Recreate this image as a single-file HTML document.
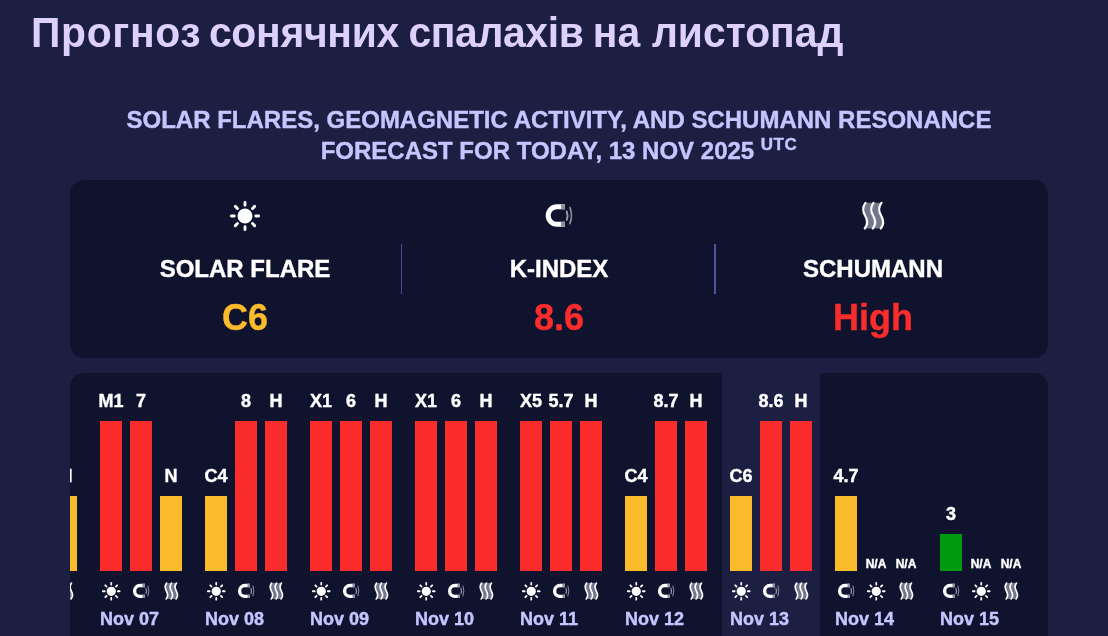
<!DOCTYPE html>
<html lang="uk"><head><meta charset="utf-8"><title>Прогноз сонячних спалахів на листопад</title>
<style>
html,body{margin:0;padding:0}
body{width:1108px;height:636px;overflow:hidden;background:#1c1e42;font-family:"Liberation Sans",Arial,sans-serif;position:relative;color:#fff}
h1{position:absolute;left:31px;top:7px;margin:0;font-size:43px;line-height:50px;font-weight:bold;color:#ddd0fe;white-space:nowrap;word-spacing:-2px;transform:scaleX(0.95);transform-origin:0 0}
h2{position:absolute;left:70px;width:978px;top:104px;margin:0;font-size:24px;line-height:31px;font-weight:bold;text-align:center;color:#c4c6ff;text-transform:uppercase}
h2,.kv .t,.kv .v,.lb,.dt{-webkit-text-stroke:0.4px currentColor}
h2 sup{font-size:17px;letter-spacing:.5px;vertical-align:baseline;position:relative;top:-9px;line-height:0}
.card{position:absolute;left:70px;top:180px;width:978px;height:178px;border-radius:14px;background:#10132e}
.kv{position:absolute;top:0;width:314px;height:178px;text-align:center}
.kv .ic{position:absolute;left:142px;top:21px}
.kv .t{position:absolute;left:0;right:0;top:74px;font-size:24px;line-height:30px;font-weight:bold;color:#fff}
.kv .v{position:absolute;left:0;right:0;top:117px;font-size:36px;line-height:42px;font-weight:bold}
.kv.b:after{content:"";position:absolute;right:0;top:64px;height:50px;width:1px;background:#474c94}
.kv.b2:after{width:2px;background:#4e5499}
.chart{position:absolute;left:70px;top:373px;width:978px;height:300px;border-radius:14px;background:#10132e;overflow:hidden}
.col{position:absolute;top:0;width:98px;height:300px}
.col.now{background:#1c1e42}
.bar{position:absolute;width:22px;bottom:102px}
.lb{position:absolute;width:60px;text-align:center;font-size:18px;line-height:20px;font-weight:bold;color:#fff;white-space:nowrap}
.lb.na{font-size:12px;line-height:14px}
.col .ic{position:absolute;top:209px}
.dt{position:absolute;left:8px;top:236px;font-size:18px;line-height:20px;font-weight:bold;color:#c4c6ff;white-space:nowrap}
</style></head><body>
<h1><span style="letter-spacing:.7px">Прогноз</span> <span style="letter-spacing:-.3px;margin-left:-2px">сонячних</span> <span style="letter-spacing:-.4px">спалахів</span> <span>на</span> <span style="margin-left:2.3px">листопад</span></h1>
<h2>SOLAR FLARES, GEOMAGNETIC ACTIVITY, AND SCHUMANN RESONANCE<br>FORECAST FOR TODAY, 13 NOV 2025 <sup>UTC</sup></h2>
<div class="card">
<div class="kv b" style="left:18px"><svg class="ic" style="" width="30" height="30" viewBox="0 0 24 24" fill="none" stroke="#fff" stroke-width="2.3" stroke-linecap="round" overflow="visible"><circle cx="12" cy="12" r="5" fill="#fff" stroke-width="2"/><path d="M12 1.1v2.3M12 20.6v2.3M4.3 4.3l1.65 1.65M18.05 18.05l1.65 1.65M1.1 12h2.3M20.6 12h2.3M4.3 19.7l1.65-1.65M18.05 5.95l1.65-1.65"/></svg><div class="t">SOLAR FLARE</div><div class="v" style="color:#fbbc2c">C6</div></div>
<div class="kv b b2" style="left:332px"><svg class="ic" style="" width="30" height="30" viewBox="0 0 30 30" fill="none"><path d="M21 5.7H13a8.8 8.8 0 0 0 0 17.600H21" stroke="#fff" stroke-width="5"/><path d="M17 5.7h4M17 23.300h4" stroke="#8e8fa1" stroke-width="5"/><path d="M22.700 10.400q1.700 4.200 0 8.400" stroke="#9a9bad" stroke-width="1.900" stroke-linecap="round"/><path d="M25.900 6.400q3.100 8.100 0 16.200" stroke="#9091a6" stroke-width="1.600" stroke-linecap="round"/></svg><div class="t">K-INDEX</div><div class="v" style="color:#fb2c2c">8.6</div></div>
<div class="kv" style="left:646px"><svg class="ic" style="" width="30" height="30" viewBox="0 0 30 30" fill="none"><path d="M7.5 1.8C4 6.5 4.5 10 7.2 14.8C9.9 19.6 10.4 23.2 6.8 27.5H22.8C26.4 23.2 25.9 19.6 23.2 14.8C20.5 10 20 6.5 23.5 1.8Z" fill="#74768c"/><path d="M7.5 1.8C4 6.5 4.5 10 7.2 14.8C9.9 19.6 10.4 23.2 6.8 27.5M15.5 1.8C12 6.5 12.5 10 15.2 14.8C17.9 19.6 18.4 23.2 14.8 27.5M23.5 1.8C20 6.5 20.5 10 23.2 14.8C25.9 19.6 26.4 23.2 22.8 27.5" stroke="#fff" stroke-width="2.2" stroke-linecap="round"/></svg><div class="t">SCHUMANN</div><div class="v" style="color:#fb2c2c">High</div></div>
</div>
<div class="chart">
<div class="col" style="left:-83px">
<div class="bar" style="left:8px;height:150px;background:#fb2c2c"></div>
<svg class="ic" style="left:10px" width="18.5" height="18.5" viewBox="0 0 24 24" fill="none" stroke="#fff" stroke-width="2.3" stroke-linecap="round" overflow="visible"><circle cx="12" cy="12" r="5" fill="#fff" stroke-width="2"/><path d="M12 1.1v2.3M12 20.6v2.3M4.3 4.3l1.65 1.65M18.05 18.05l1.65 1.65M1.1 12h2.3M20.6 12h2.3M4.3 19.7l1.65-1.65M18.05 5.95l1.65-1.65"/></svg>
<div class="bar" style="left:38px;height:150px;background:#fb2c2c"></div>
<svg class="ic" style="left:40px" width="18.5" height="18.5" viewBox="0 0 30 30" fill="none"><path d="M21 5.7H13a8.8 8.8 0 0 0 0 17.600H21" stroke="#fff" stroke-width="5.5"/><path d="M17 5.7h4M17 23.300h4" stroke="#8e8fa1" stroke-width="5.5"/><path d="M22.700 10.400q1.700 4.200 0 8.400" stroke="#9a9bad" stroke-width="1.900" stroke-linecap="round"/><path d="M25.900 6.400q3.100 8.100 0 16.200" stroke="#9091a6" stroke-width="1.600" stroke-linecap="round"/></svg>
<div class="bar" style="left:68px;height:75px;background:#fbbc2c"></div>
<div class="lb" style="left:49px;top:93.0px">N</div>
<svg class="ic" style="left:70px" width="18.5" height="18.5" viewBox="0 0 30 30" fill="none"><path d="M7.5 1.8C4 6.5 4.5 10 7.2 14.8C9.9 19.6 10.4 23.2 6.8 27.5H22.8C26.4 23.2 25.9 19.6 23.2 14.8C20.5 10 20 6.5 23.5 1.8Z" fill="#74768c"/><path d="M7.5 1.8C4 6.5 4.5 10 7.2 14.8C9.9 19.6 10.4 23.2 6.8 27.5M15.5 1.8C12 6.5 12.5 10 15.2 14.8C17.9 19.6 18.4 23.2 14.8 27.5M23.5 1.8C20 6.5 20.5 10 23.2 14.8C25.9 19.6 26.4 23.2 22.8 27.5" stroke="#fff" stroke-width="2.7" stroke-linecap="round"/></svg>
</div>
<div class="col" style="left:22px">
<div class="bar" style="left:8px;height:150px;background:#fb2c2c"></div>
<div class="lb" style="left:-11px;top:18.0px">M1</div>
<svg class="ic" style="left:10px" width="18.5" height="18.5" viewBox="0 0 24 24" fill="none" stroke="#fff" stroke-width="2.3" stroke-linecap="round" overflow="visible"><circle cx="12" cy="12" r="5" fill="#fff" stroke-width="2"/><path d="M12 1.1v2.3M12 20.6v2.3M4.3 4.3l1.65 1.65M18.05 18.05l1.65 1.65M1.1 12h2.3M20.6 12h2.3M4.3 19.7l1.65-1.65M18.05 5.95l1.65-1.65"/></svg>
<div class="bar" style="left:38px;height:150px;background:#fb2c2c"></div>
<div class="lb" style="left:19px;top:18.0px">7</div>
<svg class="ic" style="left:40px" width="18.5" height="18.5" viewBox="0 0 30 30" fill="none"><path d="M21 5.7H13a8.8 8.8 0 0 0 0 17.600H21" stroke="#fff" stroke-width="5.5"/><path d="M17 5.7h4M17 23.300h4" stroke="#8e8fa1" stroke-width="5.5"/><path d="M22.700 10.400q1.700 4.200 0 8.400" stroke="#9a9bad" stroke-width="1.900" stroke-linecap="round"/><path d="M25.900 6.400q3.100 8.100 0 16.200" stroke="#9091a6" stroke-width="1.600" stroke-linecap="round"/></svg>
<div class="bar" style="left:68px;height:75px;background:#fbbc2c"></div>
<div class="lb" style="left:49px;top:93.0px">N</div>
<svg class="ic" style="left:70px" width="18.5" height="18.5" viewBox="0 0 30 30" fill="none"><path d="M7.5 1.8C4 6.5 4.5 10 7.2 14.8C9.9 19.6 10.4 23.2 6.8 27.5H22.8C26.4 23.2 25.9 19.6 23.2 14.8C20.5 10 20 6.5 23.5 1.8Z" fill="#74768c"/><path d="M7.5 1.8C4 6.5 4.5 10 7.2 14.8C9.9 19.6 10.4 23.2 6.8 27.5M15.5 1.8C12 6.5 12.5 10 15.2 14.8C17.9 19.6 18.4 23.2 14.8 27.5M23.5 1.8C20 6.5 20.5 10 23.2 14.8C25.9 19.6 26.4 23.2 22.8 27.5" stroke="#fff" stroke-width="2.7" stroke-linecap="round"/></svg>
<div class="dt">Nov 07</div></div>
<div class="col" style="left:127px">
<div class="bar" style="left:8px;height:75px;background:#fbbc2c"></div>
<div class="lb" style="left:-11px;top:93.0px">C4</div>
<svg class="ic" style="left:10px" width="18.5" height="18.5" viewBox="0 0 24 24" fill="none" stroke="#fff" stroke-width="2.3" stroke-linecap="round" overflow="visible"><circle cx="12" cy="12" r="5" fill="#fff" stroke-width="2"/><path d="M12 1.1v2.3M12 20.6v2.3M4.3 4.3l1.65 1.65M18.05 18.05l1.65 1.65M1.1 12h2.3M20.6 12h2.3M4.3 19.7l1.65-1.65M18.05 5.95l1.65-1.65"/></svg>
<div class="bar" style="left:38px;height:150px;background:#fb2c2c"></div>
<div class="lb" style="left:19px;top:18.0px">8</div>
<svg class="ic" style="left:40px" width="18.5" height="18.5" viewBox="0 0 30 30" fill="none"><path d="M21 5.7H13a8.8 8.8 0 0 0 0 17.600H21" stroke="#fff" stroke-width="5.5"/><path d="M17 5.7h4M17 23.300h4" stroke="#8e8fa1" stroke-width="5.5"/><path d="M22.700 10.400q1.700 4.200 0 8.400" stroke="#9a9bad" stroke-width="1.900" stroke-linecap="round"/><path d="M25.900 6.400q3.100 8.100 0 16.200" stroke="#9091a6" stroke-width="1.600" stroke-linecap="round"/></svg>
<div class="bar" style="left:68px;height:150px;background:#fb2c2c"></div>
<div class="lb" style="left:49px;top:18.0px">H</div>
<svg class="ic" style="left:70px" width="18.5" height="18.5" viewBox="0 0 30 30" fill="none"><path d="M7.5 1.8C4 6.5 4.5 10 7.2 14.8C9.9 19.6 10.4 23.2 6.8 27.5H22.8C26.4 23.2 25.9 19.6 23.2 14.8C20.5 10 20 6.5 23.5 1.8Z" fill="#74768c"/><path d="M7.5 1.8C4 6.5 4.5 10 7.2 14.8C9.9 19.6 10.4 23.2 6.8 27.5M15.5 1.8C12 6.5 12.5 10 15.2 14.8C17.9 19.6 18.4 23.2 14.8 27.5M23.5 1.8C20 6.5 20.5 10 23.2 14.8C25.9 19.6 26.4 23.2 22.8 27.5" stroke="#fff" stroke-width="2.7" stroke-linecap="round"/></svg>
<div class="dt">Nov 08</div></div>
<div class="col" style="left:232px">
<div class="bar" style="left:8px;height:150px;background:#fb2c2c"></div>
<div class="lb" style="left:-11px;top:18.0px">X1</div>
<svg class="ic" style="left:10px" width="18.5" height="18.5" viewBox="0 0 24 24" fill="none" stroke="#fff" stroke-width="2.3" stroke-linecap="round" overflow="visible"><circle cx="12" cy="12" r="5" fill="#fff" stroke-width="2"/><path d="M12 1.1v2.3M12 20.6v2.3M4.3 4.3l1.65 1.65M18.05 18.05l1.65 1.65M1.1 12h2.3M20.6 12h2.3M4.3 19.7l1.65-1.65M18.05 5.95l1.65-1.65"/></svg>
<div class="bar" style="left:38px;height:150px;background:#fb2c2c"></div>
<div class="lb" style="left:19px;top:18.0px">6</div>
<svg class="ic" style="left:40px" width="18.5" height="18.5" viewBox="0 0 30 30" fill="none"><path d="M21 5.7H13a8.8 8.8 0 0 0 0 17.600H21" stroke="#fff" stroke-width="5.5"/><path d="M17 5.7h4M17 23.300h4" stroke="#8e8fa1" stroke-width="5.5"/><path d="M22.700 10.400q1.700 4.200 0 8.400" stroke="#9a9bad" stroke-width="1.900" stroke-linecap="round"/><path d="M25.900 6.400q3.100 8.100 0 16.200" stroke="#9091a6" stroke-width="1.600" stroke-linecap="round"/></svg>
<div class="bar" style="left:68px;height:150px;background:#fb2c2c"></div>
<div class="lb" style="left:49px;top:18.0px">H</div>
<svg class="ic" style="left:70px" width="18.5" height="18.5" viewBox="0 0 30 30" fill="none"><path d="M7.5 1.8C4 6.5 4.5 10 7.2 14.8C9.9 19.6 10.4 23.2 6.8 27.5H22.8C26.4 23.2 25.9 19.6 23.2 14.8C20.5 10 20 6.5 23.5 1.8Z" fill="#74768c"/><path d="M7.5 1.8C4 6.5 4.5 10 7.2 14.8C9.9 19.6 10.4 23.2 6.8 27.5M15.5 1.8C12 6.5 12.5 10 15.2 14.8C17.9 19.6 18.4 23.2 14.8 27.5M23.5 1.8C20 6.5 20.5 10 23.2 14.8C25.9 19.6 26.4 23.2 22.8 27.5" stroke="#fff" stroke-width="2.7" stroke-linecap="round"/></svg>
<div class="dt">Nov 09</div></div>
<div class="col" style="left:337px">
<div class="bar" style="left:8px;height:150px;background:#fb2c2c"></div>
<div class="lb" style="left:-11px;top:18.0px">X1</div>
<svg class="ic" style="left:10px" width="18.5" height="18.5" viewBox="0 0 24 24" fill="none" stroke="#fff" stroke-width="2.3" stroke-linecap="round" overflow="visible"><circle cx="12" cy="12" r="5" fill="#fff" stroke-width="2"/><path d="M12 1.1v2.3M12 20.6v2.3M4.3 4.3l1.65 1.65M18.05 18.05l1.65 1.65M1.1 12h2.3M20.6 12h2.3M4.3 19.7l1.65-1.65M18.05 5.95l1.65-1.65"/></svg>
<div class="bar" style="left:38px;height:150px;background:#fb2c2c"></div>
<div class="lb" style="left:19px;top:18.0px">6</div>
<svg class="ic" style="left:40px" width="18.5" height="18.5" viewBox="0 0 30 30" fill="none"><path d="M21 5.7H13a8.8 8.8 0 0 0 0 17.600H21" stroke="#fff" stroke-width="5.5"/><path d="M17 5.7h4M17 23.300h4" stroke="#8e8fa1" stroke-width="5.5"/><path d="M22.700 10.400q1.700 4.200 0 8.400" stroke="#9a9bad" stroke-width="1.900" stroke-linecap="round"/><path d="M25.900 6.400q3.100 8.100 0 16.200" stroke="#9091a6" stroke-width="1.600" stroke-linecap="round"/></svg>
<div class="bar" style="left:68px;height:150px;background:#fb2c2c"></div>
<div class="lb" style="left:49px;top:18.0px">H</div>
<svg class="ic" style="left:70px" width="18.5" height="18.5" viewBox="0 0 30 30" fill="none"><path d="M7.5 1.8C4 6.5 4.5 10 7.2 14.8C9.9 19.6 10.4 23.2 6.8 27.5H22.8C26.4 23.2 25.9 19.6 23.2 14.8C20.5 10 20 6.5 23.5 1.8Z" fill="#74768c"/><path d="M7.5 1.8C4 6.5 4.5 10 7.2 14.8C9.9 19.6 10.4 23.2 6.8 27.5M15.5 1.8C12 6.5 12.5 10 15.2 14.8C17.9 19.6 18.4 23.2 14.8 27.5M23.5 1.8C20 6.5 20.5 10 23.2 14.8C25.9 19.6 26.4 23.2 22.8 27.5" stroke="#fff" stroke-width="2.7" stroke-linecap="round"/></svg>
<div class="dt">Nov 10</div></div>
<div class="col" style="left:442px">
<div class="bar" style="left:8px;height:150px;background:#fb2c2c"></div>
<div class="lb" style="left:-11px;top:18.0px">X5</div>
<svg class="ic" style="left:10px" width="18.5" height="18.5" viewBox="0 0 24 24" fill="none" stroke="#fff" stroke-width="2.3" stroke-linecap="round" overflow="visible"><circle cx="12" cy="12" r="5" fill="#fff" stroke-width="2"/><path d="M12 1.1v2.3M12 20.6v2.3M4.3 4.3l1.65 1.65M18.05 18.05l1.65 1.65M1.1 12h2.3M20.6 12h2.3M4.3 19.7l1.65-1.65M18.05 5.95l1.65-1.65"/></svg>
<div class="bar" style="left:38px;height:150px;background:#fb2c2c"></div>
<div class="lb" style="left:19px;top:18.0px">5.7</div>
<svg class="ic" style="left:40px" width="18.5" height="18.5" viewBox="0 0 30 30" fill="none"><path d="M21 5.7H13a8.8 8.8 0 0 0 0 17.600H21" stroke="#fff" stroke-width="5.5"/><path d="M17 5.7h4M17 23.300h4" stroke="#8e8fa1" stroke-width="5.5"/><path d="M22.700 10.400q1.700 4.200 0 8.400" stroke="#9a9bad" stroke-width="1.900" stroke-linecap="round"/><path d="M25.900 6.400q3.100 8.100 0 16.200" stroke="#9091a6" stroke-width="1.600" stroke-linecap="round"/></svg>
<div class="bar" style="left:68px;height:150px;background:#fb2c2c"></div>
<div class="lb" style="left:49px;top:18.0px">H</div>
<svg class="ic" style="left:70px" width="18.5" height="18.5" viewBox="0 0 30 30" fill="none"><path d="M7.5 1.8C4 6.5 4.5 10 7.2 14.8C9.9 19.6 10.4 23.2 6.8 27.5H22.8C26.4 23.2 25.9 19.6 23.2 14.8C20.5 10 20 6.5 23.5 1.8Z" fill="#74768c"/><path d="M7.5 1.8C4 6.5 4.5 10 7.2 14.8C9.9 19.6 10.4 23.2 6.8 27.5M15.5 1.8C12 6.5 12.5 10 15.2 14.8C17.9 19.6 18.4 23.2 14.8 27.5M23.5 1.8C20 6.5 20.5 10 23.2 14.8C25.9 19.6 26.4 23.2 22.8 27.5" stroke="#fff" stroke-width="2.7" stroke-linecap="round"/></svg>
<div class="dt">Nov 11</div></div>
<div class="col" style="left:547px">
<div class="bar" style="left:8px;height:75px;background:#fbbc2c"></div>
<div class="lb" style="left:-11px;top:93.0px">C4</div>
<svg class="ic" style="left:10px" width="18.5" height="18.5" viewBox="0 0 24 24" fill="none" stroke="#fff" stroke-width="2.3" stroke-linecap="round" overflow="visible"><circle cx="12" cy="12" r="5" fill="#fff" stroke-width="2"/><path d="M12 1.1v2.3M12 20.6v2.3M4.3 4.3l1.65 1.65M18.05 18.05l1.65 1.65M1.1 12h2.3M20.6 12h2.3M4.3 19.7l1.65-1.65M18.05 5.95l1.65-1.65"/></svg>
<div class="bar" style="left:38px;height:150px;background:#fb2c2c"></div>
<div class="lb" style="left:19px;top:18.0px">8.7</div>
<svg class="ic" style="left:40px" width="18.5" height="18.5" viewBox="0 0 30 30" fill="none"><path d="M21 5.7H13a8.8 8.8 0 0 0 0 17.600H21" stroke="#fff" stroke-width="5.5"/><path d="M17 5.7h4M17 23.300h4" stroke="#8e8fa1" stroke-width="5.5"/><path d="M22.700 10.400q1.700 4.200 0 8.400" stroke="#9a9bad" stroke-width="1.900" stroke-linecap="round"/><path d="M25.900 6.400q3.100 8.100 0 16.200" stroke="#9091a6" stroke-width="1.600" stroke-linecap="round"/></svg>
<div class="bar" style="left:68px;height:150px;background:#fb2c2c"></div>
<div class="lb" style="left:49px;top:18.0px">H</div>
<svg class="ic" style="left:70px" width="18.5" height="18.5" viewBox="0 0 30 30" fill="none"><path d="M7.5 1.8C4 6.5 4.5 10 7.2 14.8C9.9 19.6 10.4 23.2 6.8 27.5H22.8C26.4 23.2 25.9 19.6 23.2 14.8C20.5 10 20 6.5 23.5 1.8Z" fill="#74768c"/><path d="M7.5 1.8C4 6.5 4.5 10 7.2 14.8C9.9 19.6 10.4 23.2 6.8 27.5M15.5 1.8C12 6.5 12.5 10 15.2 14.8C17.9 19.6 18.4 23.2 14.8 27.5M23.5 1.8C20 6.5 20.5 10 23.2 14.8C25.9 19.6 26.4 23.2 22.8 27.5" stroke="#fff" stroke-width="2.7" stroke-linecap="round"/></svg>
<div class="dt">Nov 12</div></div>
<div class="col now" style="left:652px">
<div class="bar" style="left:8px;height:75px;background:#fbbc2c"></div>
<div class="lb" style="left:-11px;top:93.0px">C6</div>
<svg class="ic" style="left:10px" width="18.5" height="18.5" viewBox="0 0 24 24" fill="none" stroke="#fff" stroke-width="2.3" stroke-linecap="round" overflow="visible"><circle cx="12" cy="12" r="5" fill="#fff" stroke-width="2"/><path d="M12 1.1v2.3M12 20.6v2.3M4.3 4.3l1.65 1.65M18.05 18.05l1.65 1.65M1.1 12h2.3M20.6 12h2.3M4.3 19.7l1.65-1.65M18.05 5.95l1.65-1.65"/></svg>
<div class="bar" style="left:38px;height:150px;background:#fb2c2c"></div>
<div class="lb" style="left:19px;top:18.0px">8.6</div>
<svg class="ic" style="left:40px" width="18.5" height="18.5" viewBox="0 0 30 30" fill="none"><path d="M21 5.7H13a8.8 8.8 0 0 0 0 17.600H21" stroke="#fff" stroke-width="5.5"/><path d="M17 5.7h4M17 23.300h4" stroke="#8e8fa1" stroke-width="5.5"/><path d="M22.700 10.400q1.700 4.200 0 8.400" stroke="#9a9bad" stroke-width="1.900" stroke-linecap="round"/><path d="M25.900 6.400q3.100 8.100 0 16.200" stroke="#9091a6" stroke-width="1.600" stroke-linecap="round"/></svg>
<div class="bar" style="left:68px;height:150px;background:#fb2c2c"></div>
<div class="lb" style="left:49px;top:18.0px">H</div>
<svg class="ic" style="left:70px" width="18.5" height="18.5" viewBox="0 0 30 30" fill="none"><path d="M7.5 1.8C4 6.5 4.5 10 7.2 14.8C9.9 19.6 10.4 23.2 6.8 27.5H22.8C26.4 23.2 25.9 19.6 23.2 14.8C20.5 10 20 6.5 23.5 1.8Z" fill="#74768c"/><path d="M7.5 1.8C4 6.5 4.5 10 7.2 14.8C9.9 19.6 10.4 23.2 6.8 27.5M15.5 1.8C12 6.5 12.5 10 15.2 14.8C17.9 19.6 18.4 23.2 14.8 27.5M23.5 1.8C20 6.5 20.5 10 23.2 14.8C25.9 19.6 26.4 23.2 22.8 27.5" stroke="#fff" stroke-width="2.7" stroke-linecap="round"/></svg>
<div class="dt">Nov 13</div></div>
<div class="col" style="left:757px">
<div class="bar" style="left:8px;height:75px;background:#fbbc2c"></div>
<div class="lb" style="left:-11px;top:93.0px">4.7</div>
<svg class="ic" style="left:10px" width="18.5" height="18.5" viewBox="0 0 30 30" fill="none"><path d="M21 5.7H13a8.8 8.8 0 0 0 0 17.600H21" stroke="#fff" stroke-width="5.5"/><path d="M17 5.7h4M17 23.300h4" stroke="#8e8fa1" stroke-width="5.5"/><path d="M22.700 10.400q1.700 4.200 0 8.400" stroke="#9a9bad" stroke-width="1.900" stroke-linecap="round"/><path d="M25.900 6.400q3.100 8.100 0 16.200" stroke="#9091a6" stroke-width="1.600" stroke-linecap="round"/></svg>
<div class="lb na" style="left:19px;top:183.8px">N/A</div>
<svg class="ic" style="left:40px" width="18.5" height="18.5" viewBox="0 0 24 24" fill="none" stroke="#fff" stroke-width="2.3" stroke-linecap="round" overflow="visible"><circle cx="12" cy="12" r="5" fill="#fff" stroke-width="2"/><path d="M12 1.1v2.3M12 20.6v2.3M4.3 4.3l1.65 1.65M18.05 18.05l1.65 1.65M1.1 12h2.3M20.6 12h2.3M4.3 19.7l1.65-1.65M18.05 5.95l1.65-1.65"/></svg>
<div class="lb na" style="left:49px;top:183.8px">N/A</div>
<svg class="ic" style="left:70px" width="18.5" height="18.5" viewBox="0 0 30 30" fill="none"><path d="M7.5 1.8C4 6.5 4.5 10 7.2 14.8C9.9 19.6 10.4 23.2 6.8 27.5H22.8C26.4 23.2 25.9 19.6 23.2 14.8C20.5 10 20 6.5 23.5 1.8Z" fill="#74768c"/><path d="M7.5 1.8C4 6.5 4.5 10 7.2 14.8C9.9 19.6 10.4 23.2 6.8 27.5M15.5 1.8C12 6.5 12.5 10 15.2 14.8C17.9 19.6 18.4 23.2 14.8 27.5M23.5 1.8C20 6.5 20.5 10 23.2 14.8C25.9 19.6 26.4 23.2 22.8 27.5" stroke="#fff" stroke-width="2.7" stroke-linecap="round"/></svg>
<div class="dt">Nov 14</div></div>
<div class="col" style="left:862px">
<div class="bar" style="left:8px;height:37px;background:#009a10"></div>
<div class="lb" style="left:-11px;top:131.0px">3</div>
<svg class="ic" style="left:10px" width="18.5" height="18.5" viewBox="0 0 30 30" fill="none"><path d="M21 5.7H13a8.8 8.8 0 0 0 0 17.600H21" stroke="#fff" stroke-width="5.5"/><path d="M17 5.7h4M17 23.300h4" stroke="#8e8fa1" stroke-width="5.5"/><path d="M22.700 10.400q1.700 4.200 0 8.400" stroke="#9a9bad" stroke-width="1.900" stroke-linecap="round"/><path d="M25.900 6.400q3.100 8.100 0 16.200" stroke="#9091a6" stroke-width="1.600" stroke-linecap="round"/></svg>
<div class="lb na" style="left:19px;top:183.8px">N/A</div>
<svg class="ic" style="left:40px" width="18.5" height="18.5" viewBox="0 0 24 24" fill="none" stroke="#fff" stroke-width="2.3" stroke-linecap="round" overflow="visible"><circle cx="12" cy="12" r="5" fill="#fff" stroke-width="2"/><path d="M12 1.1v2.3M12 20.6v2.3M4.3 4.3l1.65 1.65M18.05 18.05l1.65 1.65M1.1 12h2.3M20.6 12h2.3M4.3 19.7l1.65-1.65M18.05 5.95l1.65-1.65"/></svg>
<div class="lb na" style="left:49px;top:183.8px">N/A</div>
<svg class="ic" style="left:70px" width="18.5" height="18.5" viewBox="0 0 30 30" fill="none"><path d="M7.5 1.8C4 6.5 4.5 10 7.2 14.8C9.9 19.6 10.4 23.2 6.8 27.5H22.8C26.4 23.2 25.9 19.6 23.2 14.8C20.5 10 20 6.5 23.5 1.8Z" fill="#74768c"/><path d="M7.5 1.8C4 6.5 4.5 10 7.2 14.8C9.9 19.6 10.4 23.2 6.8 27.5M15.5 1.8C12 6.5 12.5 10 15.2 14.8C17.9 19.6 18.4 23.2 14.8 27.5M23.5 1.8C20 6.5 20.5 10 23.2 14.8C25.9 19.6 26.4 23.2 22.8 27.5" stroke="#fff" stroke-width="2.7" stroke-linecap="round"/></svg>
<div class="dt">Nov 15</div></div>
</div>
</body></html>
